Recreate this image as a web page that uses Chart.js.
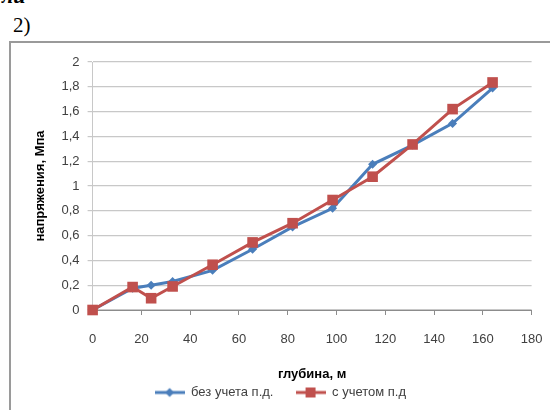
<!DOCTYPE html>
<html>
<head>
<meta charset="utf-8">
<script src="https://cdn.jsdelivr.net/npm/chart.js@4/dist/chart.umd.min.js"></script>
<style>
  html, body { margin: 0; padding: 0; background: #fff; width: 550px; height: 410px; overflow: hidden; position: relative; }
  #frame { position: absolute; left: 9px; top: 41px; width: 600px; height: 400px; border-left: 2px solid #9a9a9a; border-top: 2px solid #9a9a9a; }
  #cut { position: absolute; left: 2px; top: -17px; font: bold italic 22px "Liberation Serif", serif; color: #000; }
  #lbl { position: absolute; left: 13px; top: 13px; font: 21px "Liberation Serif", serif; color: #000; }
  #c { position: absolute; left: 0; top: 0; }
</style>
</head>
<body>
<div id="cut">ли</div>
<div id="lbl">2)</div>
<div id="frame"></div>
<canvas id="c" width="550" height="410"></canvas>
<script>
const depth = [0, 16.4, 24, 32.8, 49.2, 65.6, 82, 98.4, 114.8, 131.2, 147.6, 164];
const withoutPD = [0, 0.175, 0.20, 0.23, 0.32, 0.49, 0.67, 0.82, 1.175, 1.33, 1.505, 1.79];
const withPD = [0, 0.185, 0.095, 0.19, 0.365, 0.545, 0.70, 0.887, 1.075, 1.335, 1.62, 1.835];
const seriesNames = ["без учета п.д.", "с учетом п.д"];
const xTitle = "глубина, м";
const yTitle = "напряжения, Мпа";

const BLUE = "#4a7ebb", RED = "#c0504d";

function legendIcon(color, style) {
  const cv = document.createElement("canvas");
  cv.width = 30; cv.height = 12;
  const g = cv.getContext("2d");
  g.strokeStyle = color; g.lineWidth = 3;
  g.beginPath(); g.moveTo(0, 6); g.lineTo(30, 6); g.stroke();
  g.fillStyle = color;
  if (style === "diamond") {
    g.beginPath(); g.moveTo(15, 1.5); g.lineTo(19.5, 6); g.lineTo(15, 10.5); g.lineTo(10.5, 6); g.closePath(); g.fill();
  } else {
    g.fillRect(10, 1, 10, 10);
  }
  return cv;
}

const toXY = (ys) => ys.map((v, i) => ({ x: depth[i], y: v }));

new Chart(document.getElementById("c"), {
  type: "line",
  data: {
    datasets: [
      {
        label: seriesNames[0], data: toXY(withoutPD),
        borderColor: BLUE, backgroundColor: BLUE, borderWidth: 3,
        pointStyle: "rectRot", pointRadius: 4.5, pointBorderWidth: 0,
        tension: 0, order: 1, clip: false
      },
      {
        label: seriesNames[1], data: toXY(withPD),
        borderColor: RED, backgroundColor: RED, borderWidth: 3,
        pointStyle: "rect", pointRadius: 7.5, pointBorderWidth: 0,
        tension: 0, order: 0, clip: false
      }
    ]
  },
  options: {
    responsive: false, animation: false,
    layout: { padding: { left: 29, top: 62, right: 18.4, bottom: 1 } },
    plugins: {
      tooltip: { enabled: false },
      legend: {
        position: "bottom",
        labels: {
          usePointStyle: true, pointStyleWidth: 30, padding: 4,
          color: "#404040",
          font: { family: "Liberation Sans", size: 13 },
          sort: (a, b) => a.datasetIndex - b.datasetIndex,
          generateLabels: (chart) => chart.data.datasets.map((d, i) => ({
            text: d.label + (i === 0 ? "     " : ""), datasetIndex: i,
            pointStyle: legendIcon(d.borderColor, i === 0 ? "diamond" : "square"),
            fillStyle: d.borderColor, strokeStyle: d.borderColor, lineWidth: 0,
            fontColor: "#404040", hidden: false
          }))
        }
      }
    },
    scales: {
      x: {
        type: "linear", min: 0, max: 180,
        afterFit: (s) => { s.height = 72; s.paddingRight = 0; s.paddingLeft = 0; },
        ticks: { stepSize: 20, padding: 17, color: "#404040", font: { family: "Liberation Sans", size: 13 } },
        grid: { drawOnChartArea: false, drawTicks: true, tickLength: 5, color: "#8c8c8c", lineWidth: 1 },
        border: { color: "#8c8c8c", width: 1 },
        title: { display: true, text: xTitle, color: "#000", padding: { top: 2, bottom: 0 }, font: { family: "Liberation Sans", size: 13, weight: "bold" } }
      },
      y: {
        min: 0, max: 2,
        afterFit: (s) => { s.width = 63.6; },
        ticks: { stepSize: 0.2, padding: 8, color: "#404040", font: { family: "Liberation Sans", size: 13 },
          callback: (v) => (Math.round(v * 10) / 10).toString().replace(".", ",") },
        grid: { color: "#c8c8c8", lineWidth: 1.2, tickLength: 5 },
        border: { color: "#c8c8c8", width: 1 },
        title: { display: true, text: yTitle, color: "#000", padding: { top: 4, bottom: 4 }, font: { family: "Liberation Sans", size: 13, weight: "bold" } }
      }
    }
  }
});
</script>
</body>
</html>
